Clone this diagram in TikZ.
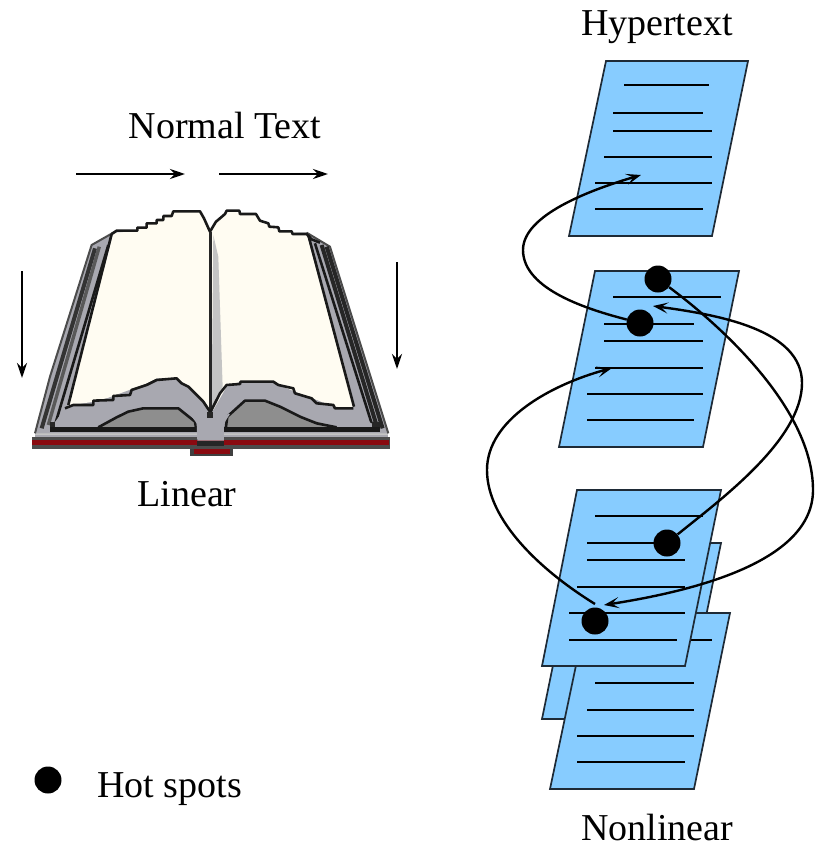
\documentclass[tikz,border=0pt]{standalone}
\usepackage{fontspec}
\setmainfont{Liberation Serif}
\usetikzlibrary{arrows.meta}
\definecolor{sheetblue}{HTML}{87CCFF}
\definecolor{sheetedge}{HTML}{1E2A36}
\definecolor{cream}{HTML}{FFFCF2}
\definecolor{bookgrey}{HTML}{A8A8B0}
\definecolor{bookmid}{HTML}{8E8E8E}
\definecolor{booklight}{HTML}{C4C4C4}
\definecolor{bookred}{HTML}{8A0A10}
\tikzset{
  sheet/.style={fill=sheetblue,draw=sheetedge,line width=1.7pt,line join=miter},
  textline/.style={draw=black,line width=2.8pt},
  hotspot/.style={circle,fill=black,inner sep=0pt,minimum size=27pt},
  linkcurve/.style={draw=black,line width=2.4pt,-{Stealth[length=15pt,width=11pt,inset=7pt]}},
  readarrow/.style={draw=black,line width=2.4pt,-{Stealth[length=15pt,width=10pt,inset=5pt]}},
  label/.style={font=\fontsize{38}{42}\selectfont,text=black,inner sep=0pt,anchor=base},
  bookline/.style={draw=black!90,line width=2.6pt,line join=round},
}
\begin{document}
\begin{tikzpicture}[x=1pt,y=-1pt]
\useasboundingbox (0,0) rectangle (817,844);
\fill[white] (0,0) rectangle (817,844);

% ---------- book, drawn in zoomed pixel units ----------
\begin{scope}[shift={(0,190)},x=0.3333pt,y=-0.3333pt]
  % cover feet
  \fill[black!75] (570,765) rectangle (700,797);
  \fill[bookred] (582,778) rectangle (690,792);
  \fill[black!70] (95,740) rectangle (1170,777);
  \fill[bookred] (97,750) rectangle (1168,766);
  \fill[bookgrey] (105,722) rectangle (1165,742);
  \fill[booklight] (105,728) rectangle (1165,736);
  % outer page block
  \fill[bookgrey] (105,730) -- (150,560) -- (275,165) -- (340,128)
     -- (920,128) -- (990,170) -- (1165,730) -- cycle;
  \draw[black!70,line width=2pt] (105,730) -- (150,560) -- (275,165) -- (340,128);
  \draw[black!70,line width=2pt] (920,128) -- (990,170) -- (1165,730);
  \draw[black!80,line width=4pt] (125,715) -- (285,175);
  \draw[black!65,line width=3.4pt] (145,705) -- (298,170);
  \draw[black!85,line width=4pt] (1148,715) -- (980,170);
  \draw[black!85,line width=4pt] (1128,700) -- (965,165);
  % grey block under the pages
  \fill[bookgrey] (155,710) -- (205,650) -- (640,560) -- (1060,650) -- (1125,710) -- cycle;
  \draw[bookline] (165,705) -- (325,165);
  \draw[bookline] (1115,700) -- (945,160);
  % cream pages
  \path[fill=cream] (340,130) -- (410,122) -- (440,105) -- (470,95) -- (490,80) -- (520,64)
     -- (600,64) -- (615,90) -- (630,122) -- (650,90) -- (680,64) -- (720,68) -- (770,75) -- (785,95)
     -- (830,120) -- (920,132) -- (1060,652) -- (1000,652) -- (950,630) -- (880,605) -- (820,575)
     -- (720,575) -- (680,590) -- (640,660) -- (628,660) -- (580,600) -- (530,565) -- (470,565)
     -- (400,600) -- (340,620) -- (280,635) -- (205,648) -- cycle;
  % gutter shade
  \fill[booklight] (640,135) -- (655,200) -- (668,590) -- (645,650) -- (635,650) -- cycle;
  % stepped outline of the top
  \draw[bookline] (335,132) -- (350,122) -- (412,122) -- (412,113) -- (440,113) -- (440,100) -- (470,100)
     -- (470,90) -- (490,90) -- (490,78) -- (515,78) -- (520,64) -- (600,64) -- (612,85) -- (630,125)
     -- (648,95) -- (660,85) -- (675,72) -- (680,62) -- (718,62) -- (720,72) -- (768,72) -- (780,92)
     -- (805,100) -- (808,110) -- (835,112) -- (838,124) -- (875,124) -- (878,132) -- (920,132)
     -- (935,148) -- (960,158);
  \draw[bookline] (335,132) -- (205,645);
  \draw[bookline] (925,135) -- (1062,650);
  \draw[black!85,line width=2.6pt] (632,125) -- (632,670);
  % lower grey humps
  \fill[bookgrey] (155,710) -- (195,655) -- (280,640) -- (470,570) -- (530,568) -- (632,680) -- (682,590) -- (820,580)
     -- (1000,650) -- (1062,655) -- (1125,710) -- cycle;
  \fill[bookmid] (295,715) -- (350,680) -- (430,655) -- (535,655) -- (585,695) -- (590,722) -- cycle;
  \fill[bookmid] (680,722) -- (682,680) -- (735,632) -- (795,632) -- (900,680) -- (1010,712) -- cycle;
  \draw[bookline] (295,712) -- (350,682) -- (385,665) -- (430,655) -- (535,655) -- (585,695) -- (590,725);
  \draw[bookline] (676,725) -- (682,680) -- (735,632) -- (795,632) -- (840,650) -- (900,680) -- (950,700) -- (1010,712);
  % stepped outline of the page bottom
  \draw[bookline] (195,655) -- (220,645) -- (280,645) -- (280,632) -- (340,630) -- (340,618) -- (390,615)
     -- (395,600) -- (440,585) -- (470,570) -- (530,565) -- (545,580) -- (565,590) -- (585,610) -- (610,635) -- (630,665);
  \draw[bookline] (632,665) -- (660,610) -- (680,585) -- (720,582) -- (722,575) -- (820,575) -- (835,585) -- (880,595)
     -- (885,610) -- (935,625) -- (950,640) -- (1000,645) -- (1005,655) -- (1060,655);
  % black band and centre gutter
  \fill[black!90] (150,710) rectangle (590,725);
  \fill[black!90] (672,710) rectangle (1140,725);
  \fill[black!85] (150,695) -- (165,695) -- (165,712) -- (150,712) -- cycle;
  \fill[black!85] (1115,695) -- (1140,695) -- (1140,712) -- (1115,712) -- cycle;
  \fill[bookgrey] (592,752) -- (590,700) -- (570,672) -- (632,680) -- (690,672) -- (672,700) -- (672,752) -- cycle;
  \fill[black!85] (622,665) rectangle (640,685);
  \fill[black!85] (590,752) rectangle (672,768);
\end{scope}

% ---------- straight reading arrows ----------
\coordinate (nA) at (76,174);   \coordinate (nB) at (185,174);
\coordinate (nC) at (219,174);  \coordinate (nD) at (328,174);
\coordinate (lA) at (22,271);   \coordinate (lB) at (22,378);
\coordinate (rA) at (397,262);  \coordinate (rB) at (397,369);
\draw[readarrow] (nA) -- (nB);
\draw[readarrow] (nC) -- (nD);
\draw[readarrow] (lA) -- (lB);
\draw[readarrow] (rA) -- (rB);

% ---------- sheets ----------
% top
\draw[sheet] (606,61) -- (748,61) -- (712,236) -- (569,236) -- cycle;
\foreach \y/\a/\b in {85/624/709,113/613/703,131/613/712,157/604/712,183/595/712,209/595/703}
  \draw[textline] (\a,\y) -- (\b,\y);
% middle
\draw[sheet] (595,271) -- (739,271) -- (703,447) -- (559,447) -- cycle;
\foreach \y/\a/\b in {297/613/721,324/604/694,341/604/703,368/595/703,394/587/703,420/587/694}
  \draw[textline] (\a,\y) -- (\b,\y);
% stack, rear
\draw[sheet] (578,543) -- (721,543) -- (685,719) -- (542,719) -- cycle;
% stack, lower
\draw[sheet] (587,613) -- (730,613) -- (694,789) -- (550,789) -- cycle;
\foreach \y/\a/\b in {640/600/712,683/595/694,710/587/694,736/577/694,762/577/685}
  \draw[textline] (\a,\y) -- (\b,\y);
% stack, front
\draw[sheet] (577,490) -- (721,490) -- (685,666) -- (542,666) -- cycle;
\foreach \y/\a/\b in {516/595/703,543/587/667,560/587/685,587/577/685,613/569/685,640/569/677}
  \draw[textline] (\a,\y) -- (\b,\y);

% ---------- hot spots ----------
\node[hotspot] (h1) at (658,279) {};
\node[hotspot] (h2) at (640,323) {};
\node[hotspot] (h3) at (667,543) {};
\node[hotspot] (h4) at (595,621) {};
\node[hotspot] (key) at (48,780) {};

% ---------- links ----------
\coordinate (t1) at (641,175);
\coordinate (t2) at (653,306);
\coordinate (t3) at (612,368);
\coordinate (t4) at (604,605);
\coordinate (s4) at (595,604);
\coordinate (w1) at (523,250);
\coordinate (w2) at (813,490);
\coordinate (w3) at (802,383);
\coordinate (w4) at (487,470);
\draw[linkcurve] (h2) .. controls (590,310) and (523,290) .. (w1) .. controls (523,215) and (590,190) .. (t1);
\draw[linkcurve] (h1) .. controls (700,310) and (813,400) .. (w2) .. controls (813,560) and (700,590) .. (t4);
\draw[linkcurve] (h3) .. controls (720,500) and (802,440) .. (w3) .. controls (802,330) and (720,315) .. (t2);
\draw[linkcurve] (s4) .. controls (540,570) and (487,520) .. (w4) .. controls (487,420) and (550,385) .. (t3);

% ---------- labels ----------
\node[label] (ttl) at (657,35) {Hypertext};
\node[label] (nrm) at (225,138) {Normal Text};
\node[label] (lin) at (187,506) {Linear};
\node[label] (non) at (657,840) {Nonlinear};
\node[label,anchor=base west] (hot) at (97,797) {Hot spots};
\end{tikzpicture}
\end{document}
